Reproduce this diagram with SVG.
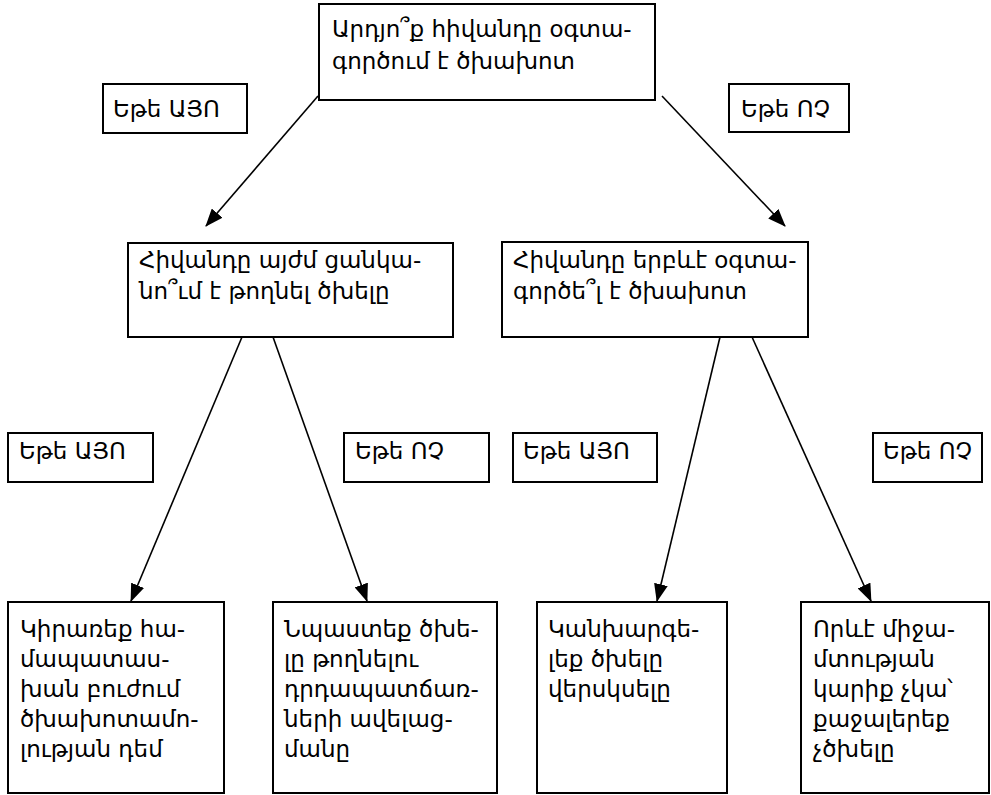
<svg xmlns="http://www.w3.org/2000/svg" width="991" height="795" viewBox="0 0 991 795">
<style>
.box{fill:#fff;stroke:#000;stroke-width:2}
.t{font-family:"DejaVu Sans","Noto Sans",sans-serif;font-size:23px;fill:#000}
.c line{stroke:#000;stroke-width:1.6;marker-end:url(#ah)}
</style>
<defs>
<marker id="ah" markerWidth="18" markerHeight="14" refX="17" refY="7" orient="auto" markerUnits="userSpaceOnUse">
<path d="M0,0 L18,7 L0,14 Z" fill="#000"/>
</marker>
</defs>
<rect width="991" height="795" fill="#fff"/>
<g class="c" id="connectors">
<line x1="318" y1="96" x2="206" y2="226"/>
<line x1="662" y1="96" x2="785" y2="226"/>
<line x1="242" y1="337" x2="131" y2="601"/>
<line x1="273" y1="337" x2="367" y2="601"/>
<line x1="720" y1="337" x2="657" y2="601"/>
<line x1="752" y1="337" x2="871" y2="601"/>
</g>
<g id="n-top"><rect class="box" x="319" y="4" width="336" height="96"/>
<text class="t" x="332" y="37">Արդյո՞ք հիվանդը օգտա-</text>
<text class="t" x="332" y="69">գործում է ծխախոտ</text></g>
<g id="l-yes1"><rect class="box" x="103" y="84" width="144" height="49"/><text class="t" x="113" y="117">Եթե ԱՅՈ</text></g>
<g id="l-no1"><rect class="box" x="729" y="84" width="120" height="48"/><text class="t" x="741" y="117">Եթե ՈՉ</text></g>
<g id="n-left"><rect class="box" x="128" y="243" width="325" height="94"/>
<text class="t" x="139" y="268">Հիվանդը այժմ ցանկա-</text>
<text class="t" x="139" y="299">նո՞ւմ է թողնել ծխելը</text></g>
<g id="n-right"><rect class="box" x="502" y="242" width="306" height="95"/>
<text class="t" x="513" y="268">Հիվանդը երբևէ օգտա-</text>
<text class="t" x="513" y="299">գործե՞լ է ծխախոտ</text></g>
<g id="l-yes2"><rect class="box" x="8" y="433" width="145" height="49"/><text class="t" x="19" y="459">Եթե ԱՅՈ</text></g>
<g id="l-no2"><rect class="box" x="344" y="433" width="145" height="49"/><text class="t" x="355" y="459">Եթե ՈՉ</text></g>
<g id="l-yes3"><rect class="box" x="513" y="433" width="144" height="49"/><text class="t" x="523" y="459">Եթե ԱՅՈ</text></g>
<g id="l-no3"><rect class="box" x="873" y="433" width="109" height="49"/><text class="t" x="883" y="459">Եթե ՈՉ</text></g>
<g id="n-b1"><rect class="box" x="8" y="602" width="216" height="191"/>
<text class="t" x="20" y="637">Կիրառեք հա-</text>
<text class="t" x="20" y="667">մապատաս-</text>
<text class="t" x="20" y="697">խան բուժում</text>
<text class="t" x="20" y="727">ծխախոտամո-</text>
<text class="t" x="20" y="757">լության դեմ</text></g>
<g id="n-b2"><rect class="box" x="273" y="602" width="224" height="191"/>
<text class="t" x="284" y="637">Նպաստեք ծխե-</text>
<text class="t" x="284" y="667">լը թողնելու</text>
<text class="t" x="284" y="697">դրդապատճառ-</text>
<text class="t" x="284" y="727">ների ավելաց-</text>
<text class="t" x="284" y="757">մանը</text></g>
<g id="n-b3"><rect class="box" x="537" y="602" width="190" height="191"/>
<text class="t" x="548" y="637">Կանխարգե-</text>
<text class="t" x="548" y="667">լեք ծխելը</text>
<text class="t" x="548" y="697">վերսկսելը</text></g>
<g id="n-b4"><rect class="box" x="801" y="602" width="188" height="191"/>
<text class="t" x="813" y="637">Որևէ միջա-</text>
<text class="t" x="813" y="667">մտության</text>
<text class="t" x="813" y="697">կարիք չկա՝</text>
<text class="t" x="813" y="727">քաջալերեք</text>
<text class="t" x="813" y="757">չծխելը</text></g>
</svg>
